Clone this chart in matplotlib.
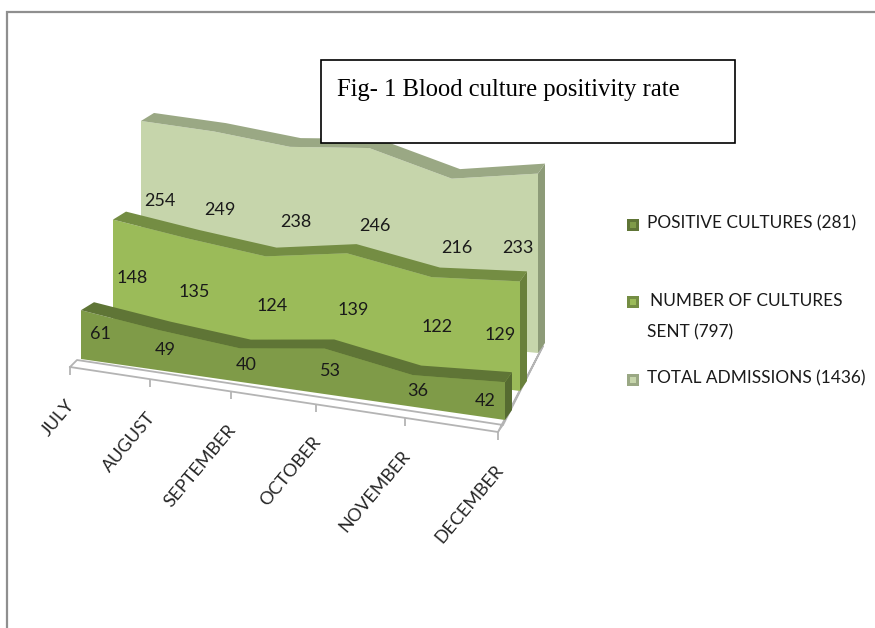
import numpy as np
import matplotlib
matplotlib.use("Agg")
import matplotlib.pyplot as plt
from matplotlib.patches import Rectangle

months = ["JULY", "AUGUST", "SEPTEMBER", "OCTOBER", "NOVEMBER", "DECEMBER"]
total_admissions = [254, 249, 238, 246, 216, 233]
cultures_sent = [148, 135, 124, 139, 122, 129]
positive_cultures = [61, 49, 40, 53, 36, 42]

W, H = 875, 628
fig = plt.figure(figsize=(W / 100, H / 100), dpi=100)
ax = fig.add_axes([0, 0, 1, 1])
ax.set_xlim(0, W)
ax.set_ylim(H, 0)
ax.axis("off")

KEY = 0.11          # perspective foreshortening along the category axis
DEPTH = (13, -8, 7, -10)


def warp(i):
    u = np.asarray(i, float) / 5
    return u / (1 + KEY * (1 - u))


def project(plane, i, v, depth=0.0):
    """plane = (x0, y0, s0, x1, y1, s1): base corners and px-per-unit scale."""
    x0, y0, s0, x1, y1, s1 = plane
    t = warp(i)
    dx = DEPTH[0] + (DEPTH[2] - DEPTH[0]) * t
    dy = DEPTH[1] + (DEPTH[3] - DEPTH[1]) * t
    x = x0 + (x1 - x0) * t + depth * dx
    y = y0 + (y1 - y0) * t - np.asarray(v, float) * (s0 + (s1 - s0) * t) + depth * dy
    return x, y


idx = np.arange(6)
series = [
    dict(vals=total_admissions, plane=(141, 314, 0.76, 538, 353, 0.77), face="#c6d5ab",
         top="#9aa884", side="#8d9b78", frac=0.585),
    dict(vals=cultures_sent, plane=(113, 338, 0.80, 520, 391, 0.85), face="#9bbb59",
         top="#748d43", side="#69803b", frac=0.51),
    dict(vals=positive_cultures, plane=(81, 359, 0.80, 505, 420, 0.90), face="#7f9b48",
         top="#5f7536", side="#566b31", frac=0.51),
]
label_nudge = [19, 6, 6, 6, 5, -20]

# frame
ax.plot([7, 7, W], [H, 12, 12], color="#8f8f8f", lw=1.6, solid_joinstyle="miter")

# floor, computed from the category axis ends
floor = "#b4b4b4"
fx = np.array([70, 150, 231, 316, 405, 498])
fy = 367 + (432 - 367) * (fx - 70) / (498 - 70)
ax.plot([70, 77, 503, 543, 498, 70], [367, 360, 425, 346, 432, 367], color=floor, lw=1.3)
ax.plot([503, 498], [425, 432], color=floor, lw=1.0)
ax.vlines(fx, fy, fy + 8, color=floor, lw=1.3)

fine = np.linspace(0, 5, 6)
for s in series:
    p, v = s["plane"], np.array(s["vals"], float)
    xf, yf = project(p, fine, v)
    xb, yb = project(p, fine, v, 1.0)
    bx, by = project(p, fine, 0 * v)
    # side wall on the last category
    bx1, by1 = project(p, 5, 0, 1.0)
    ax.fill([xf[-1], xb[-1], bx1, bx[-1]], [yf[-1], yb[-1], by1, by[-1]],
            color=s["side"], lw=0, zorder=2)
    # front face
    ax.fill(np.r_[xf, bx[::-1]], np.r_[yf, by[::-1]], color=s["face"], lw=0, zorder=2)
    # top ridge
    ax.fill(np.r_[xf, xb[::-1]], np.r_[yf, yb[::-1]], color=s["top"], lw=0, zorder=2)
    # value labels
    lx, ly = project(p, fine, v * s["frac"])
    for k in idx:
        ax.text(lx[k] + label_nudge[k], ly[k], str(s["vals"][k]), ha="center", va="center",
                family="Lato", fontsize=13, color="#1a1a1a", zorder=4)

# category labels
for m, x, y in zip(months, fx, fy):
    ax.text(x + 2, y + 35, m, rotation=50, rotation_mode="anchor", ha="right", va="center",
            family="Lato", fontsize=13, color="#262626")

# title box
ax.add_patch(Rectangle((321, 60), 414, 83, fc="white", ec="black", lw=1.2, zorder=5))
ax.text(337, 90, "Fig- 1 Blood culture positivity rate", family="Liberation Serif",
        fontsize=17.7, va="center", ha="left", color="black", zorder=6)

# legend
legend = [
    (225, "#7f9b48", "#5f7536"),
    (302, "#9bbb59", "#748d43"),
    (380, "#c6d5ab", "#9aa884"),
]
for y, c, e in legend:
    ax.scatter([633], [y], marker="s", s=72, c=e, linewidths=0, zorder=3)
    ax.scatter([633], [y], marker="s", s=24, c=c, linewidths=0, zorder=4)
for x, y, t in [(647, 223, "POSITIVE CULTURES (281)"), (650, 301, "NUMBER OF CULTURES"),
                (647, 332, "SENT (797)"), (647, 378, "TOTAL ADMISSIONS (1436)")]:
    ax.text(x, y, t, family="Lato", fontsize=12.4, va="center", ha="left", color="#1a1a1a")

fig.savefig("out.png", dpi=100)
